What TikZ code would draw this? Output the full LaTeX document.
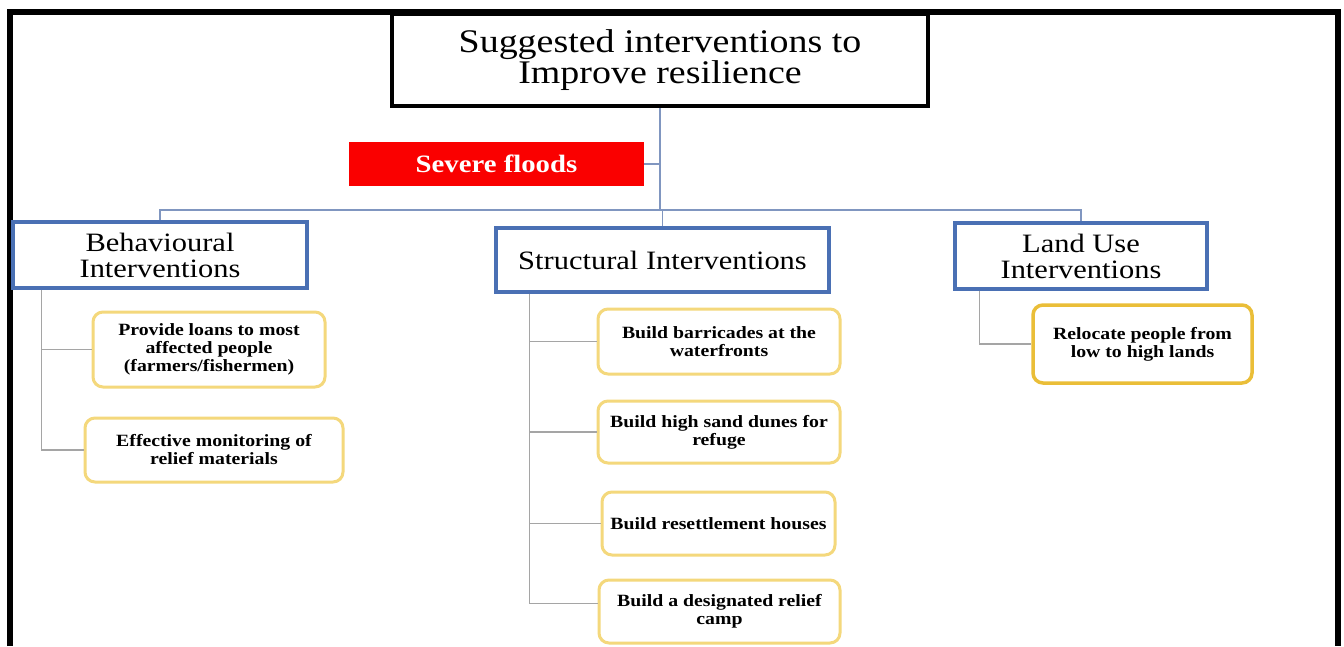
\documentclass[tikz,border=0pt]{standalone}
\usepackage{fontspec}
\setmainfont[FakeStretch=1.15]{Liberation Serif}
\usetikzlibrary{calc}
\definecolor{headblue}{RGB}{74,112,180}
\definecolor{buscol}{RGB}{128,150,192}
\definecolor{treegray}{RGB}{165,165,165}
\definecolor{leafgold}{RGB}{244,216,124}
\definecolor{leafgolddark}{RGB}{234,190,56}
\definecolor{floodred}{RGB}{250,0,0}

\begin{document}
\begin{tikzpicture}[x=1pt,y=-1pt,
  titlebox/.style={draw=black,line width=4pt,fill=white,inner sep=0pt,
    minimum width=536pt,minimum height=92pt,align=center,
    font=\fontsize{33}{28}\selectfont},
  hazard/.style={fill=floodred,text=white,inner sep=0pt,
    minimum width=295pt,minimum height=44pt,
    font=\fontsize{25}{27}\selectfont\bfseries},
  groupbox/.style={draw=headblue,line width=3.5pt,fill=white,inner sep=0pt,
    align=center,font=\fontsize{26.5}{26}\selectfont},
  leaf/.style={draw=leafgold,line width=3pt,fill=white,rounded corners=10pt,
    inner sep=0pt,align=center,font=\fontsize{17.2}{18}\selectfont\bfseries},
  bus/.style={draw=buscol,line width=1.5pt},
  tree/.style={draw=treegray,line width=1.5pt}
]
\useasboundingbox (0,0) rectangle (1344,646);
\fill[white] (0,0) rectangle (1344,646);

% frame: left, top and right edges
\draw[line width=6pt,line join=miter] (10,646) -- (10,12) -- (1338,12) -- (1338,646);

% nodes
\node[titlebox] (title) at (660,60) {Suggested interventions to\\Improve resilience};
\node[hazard] (flood) at (496.5,164) {Severe floods};

\node[groupbox,minimum width=294pt,minimum height=66pt] (beh) at (160,255)
  {Behavioural\\Interventions};
\node[groupbox,minimum width=333pt,minimum height=64pt] (str) at (662.5,260)
  {Structural Interventions};
\node[groupbox,minimum width=252pt,minimum height=66pt] (land) at (1081,256)
  {Land Use\\Interventions};

\node[leaf,minimum width=232pt,minimum height=75pt] (b1) at (209,349.5)
  {Provide loans to most\\affected people\\(farmers/fishermen)};
\node[leaf,minimum width=258pt,minimum height=64pt] (b2) at (214,450)
  {Effective monitoring of\\relief materials};

\node[leaf,minimum width=242pt,minimum height=65pt] (s1) at (719,341.5)
  {Build barricades at the\\waterfronts};
\node[leaf,minimum width=242pt,minimum height=62pt] (s2) at (719,432)
  {Build high sand dunes for\\refuge};
\node[leaf,minimum width=233pt,minimum height=63pt] (s3) at (718.5,523.5)
  {Build resettlement houses};
\node[leaf,minimum width=241pt,minimum height=63pt] (s4) at (719.5,611.5)
  {Build a designated relief\\camp};

\node[leaf,draw=leafgolddark,line width=3.5pt,minimum width=219pt,minimum height=78pt]
  (l1) at (1142.5,344) {Relocate people from\\low to high lands};

% connectors from the title down to the three groups
\coordinate (hub) at (661,210);
\draw[bus] (title.south) -- (title.south |- hub);
\draw[bus] (flood.east) -- (flood.east -| title.south);
\draw[bus] (beh.north) -- (beh.north |- hub) -| (land.north);
\draw[bus] (str.north) -- (str.north |- hub);

% group trees
\coordinate (bspine) at ($(beh.south west)+(30,0)$);
\draw[tree] (bspine) |- (b1.west);
\draw[tree] (bspine) |- (b2.west);

\coordinate (sspine) at ($(str.south west)+(35,0)$);
\draw[tree] (sspine) |- (s1.west);
\draw[tree] (sspine) |- (s2.west);
\draw[tree] (sspine) |- (s3.west);
\draw[tree] (sspine) |- ($(s4.west)+(0,-8)$);

\coordinate (lspine) at ($(land.south west)+(26,0)$);
\draw[tree] (lspine) |- (l1.west);
\end{tikzpicture}
\end{document}
